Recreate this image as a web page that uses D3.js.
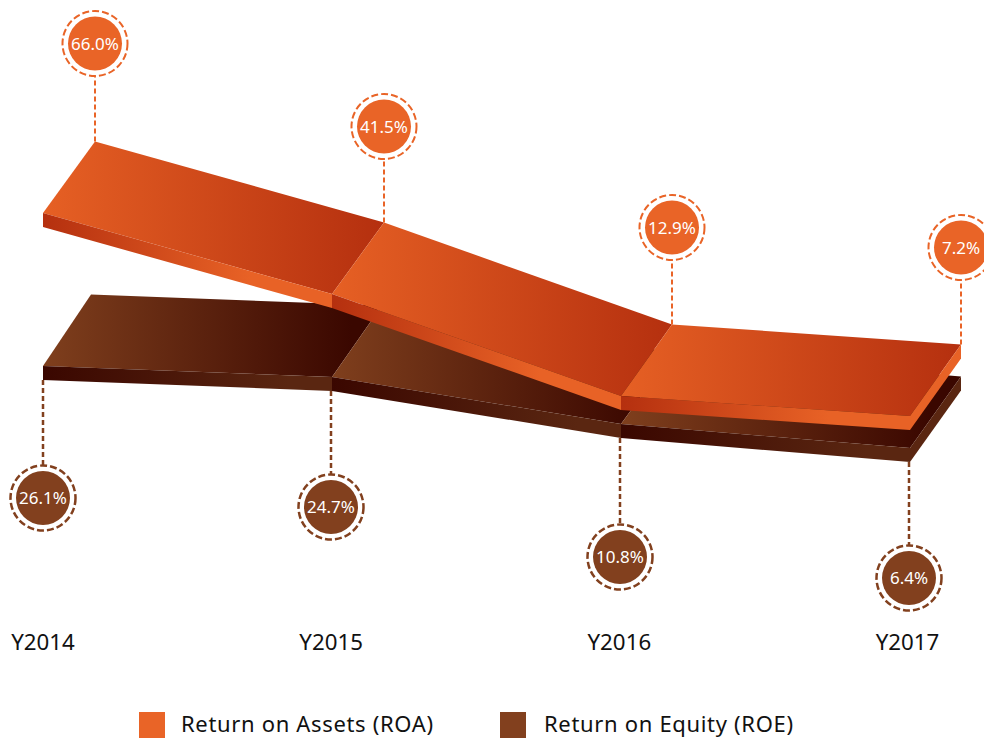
<!DOCTYPE html>
<html><head><meta charset="utf-8">
<script src="https://cdn.jsdelivr.net/npm/d3@7/dist/d3.min.js"></script>
<style>html,body{margin:0;padding:0;background:#fff;overflow:hidden}svg{display:block}text{font-family:"Noto Sans",sans-serif}</style>
</head><body><svg id="c" width="984" height="738"></svg>
<script>
const categories = ["Y2014","Y2015","Y2016","Y2017"];
const roaValues = [66.0,41.5,12.9,7.2];
const roeValues = [26.1,24.7,10.8,6.4];
const roaName = "Return on Assets (ROA)";
const roeName = "Return on Equity (ROE)";

const svg = d3.select("#c");
const defs = svg.append("defs");
const x = d3.scalePoint().domain(categories).range([43,910]);
const xLabel = d3.scalePoint().domain(categories).range([43,907.5]);
// the source's 3D perspective is not linear in value, so each series uses a piecewise scale
const yRoa = d3.scaleLinear().domain([66.0,41.5,12.9,7.2]).range([213,294,396,416]);
const yRoe = d3.scaleLinear().domain([26.1,24.7,10.8,6.4]).range([366,377,424,448]);

const DY = -71.5, H = 14;
const series = [
 {key:"roe",values:roeValues,y:yRoe,color:"#82401E",dx:[48,50,52,51],
  top:["#7F3F1D","#3A0700"],front:["#3A0700","#5A2611"],side:"#5A2611",frontStop:"85%",topEnd:20},
 {key:"roa",values:roaValues,y:yRoa,color:"#E96427",dx:[52,52,51,51],
  top:["#E66024","#B5300F"],front:["#B5300F","#E86226"],side:"#E86226",frontStop:"72%",topEnd:50}
];
const pts = a => a.map(p=>p.join(",")).join(" ");
series.forEach(s=>{
  const g = svg.append("g").attr("class","band-"+s.key);
  const P = categories.map((c,i)=>({x:x(c),y:s.y(s.values[i]),dx:s.dx[i]}));
  d3.pairs(P).forEach(([a,b],i)=>{
    const tid=`t-${s.key}-${i}`, fid=`f-${s.key}-${i}`;
    const tg=defs.append("linearGradient").attr("id",tid).attr("gradientUnits","userSpaceOnUse")
      .attr("x1",a.x).attr("x2",b.x+s.topEnd).attr("y1",0).attr("y2",0);
    tg.append("stop").attr("offset","0%").attr("stop-color",s.top[0]);
    tg.append("stop").attr("offset","100%").attr("stop-color",s.top[1]);
    const fg=defs.append("linearGradient").attr("id",fid).attr("gradientUnits","userSpaceOnUse")
      .attr("x1",a.x).attr("x2",b.x).attr("y1",0).attr("y2",0);
    fg.append("stop").attr("offset","0%").attr("stop-color",s.front[0]);
    fg.append("stop").attr("offset",s.frontStop).attr("stop-color",s.front[1]);
    g.append("polygon").attr("fill",`url(#${tid})`)
      .attr("points",pts([[a.x,a.y],[a.x+a.dx,a.y+DY],[b.x+b.dx,b.y+DY],[b.x,b.y]]));
    g.append("polygon").attr("fill",`url(#${fid})`)
      .attr("points",pts([[a.x,a.y],[b.x,b.y],[b.x,b.y+H],[a.x,a.y+H]]));
  });
  const e=P[P.length-1];
  g.append("polygon").attr("fill",s.side)
    .attr("points",pts([[e.x,e.y],[e.x+e.dx,e.y+DY],[e.x+e.dx,e.y+DY+H],[e.x,e.y+H]]));
});

function marker(cx,cy,x0,y0,y1,color,label,lw){
  const g=svg.append("g");
  g.append("line").attr("x1",x0).attr("x2",x0).attr("y1",y0).attr("y2",y1)
    .attr("stroke",color).attr("stroke-width",lw).attr("stroke-dasharray","5 3");
  g.append("circle").attr("cx",cx).attr("cy",cy).attr("r",32.5).attr("fill","#fff")
    .attr("stroke",color).attr("stroke-width",lw).attr("stroke-dasharray","7 3");
  g.append("circle").attr("cx",cx).attr("cy",cy).attr("r",27).attr("fill",color);
  g.append("text").attr("x",cx).attr("y",cy+6).attr("text-anchor","middle")
    .attr("fill","#fff").attr("font-size",17).text(label);
}
const fmt = v=>v.toFixed(1)+"%";
const roaGap=[98,96,97,97], roeGap=[118,116,119,116];
categories.forEach((c,i)=>{
  const xa=x(c)+series[1].dx[i], ya=yRoa(roaValues[i])+DY;
  marker(xa,ya-roaGap[i],xa,ya,ya-roaGap[i]+33,"#E96427",fmt(roaValues[i]),2);
});
categories.forEach((c,i)=>{
  const xb=x(c)-(i?1:0), yb=yRoe(roeValues[i])+H;
  marker(xb,yb+roeGap[i],xb,yb,yb+roeGap[i]-33,"#82401E",fmt(roeValues[i]),2.5);
});
svg.append("g").selectAll("text").data(categories).join("text")
  .attr("x",d=>xLabel(d)).attr("y",650).attr("text-anchor","middle")
  .attr("fill","#111").attr("font-size",22.3).text(d=>d);
const legend=[{n:roaName,c:"#E96427",x:139,tx:181,w:252},{n:roeName,c:"#82401E",x:500,tx:544,w:249}];
legend.forEach(l=>{
  svg.append("rect").attr("x",l.x).attr("y",712).attr("width",26).attr("height",26).attr("fill",l.c);
  svg.append("text").attr("x",l.tx).attr("y",732).attr("fill","#111").attr("font-size",22)
    .attr("textLength",l.w).attr("lengthAdjust","spacing").text(l.n);
});
</script></body></html>
